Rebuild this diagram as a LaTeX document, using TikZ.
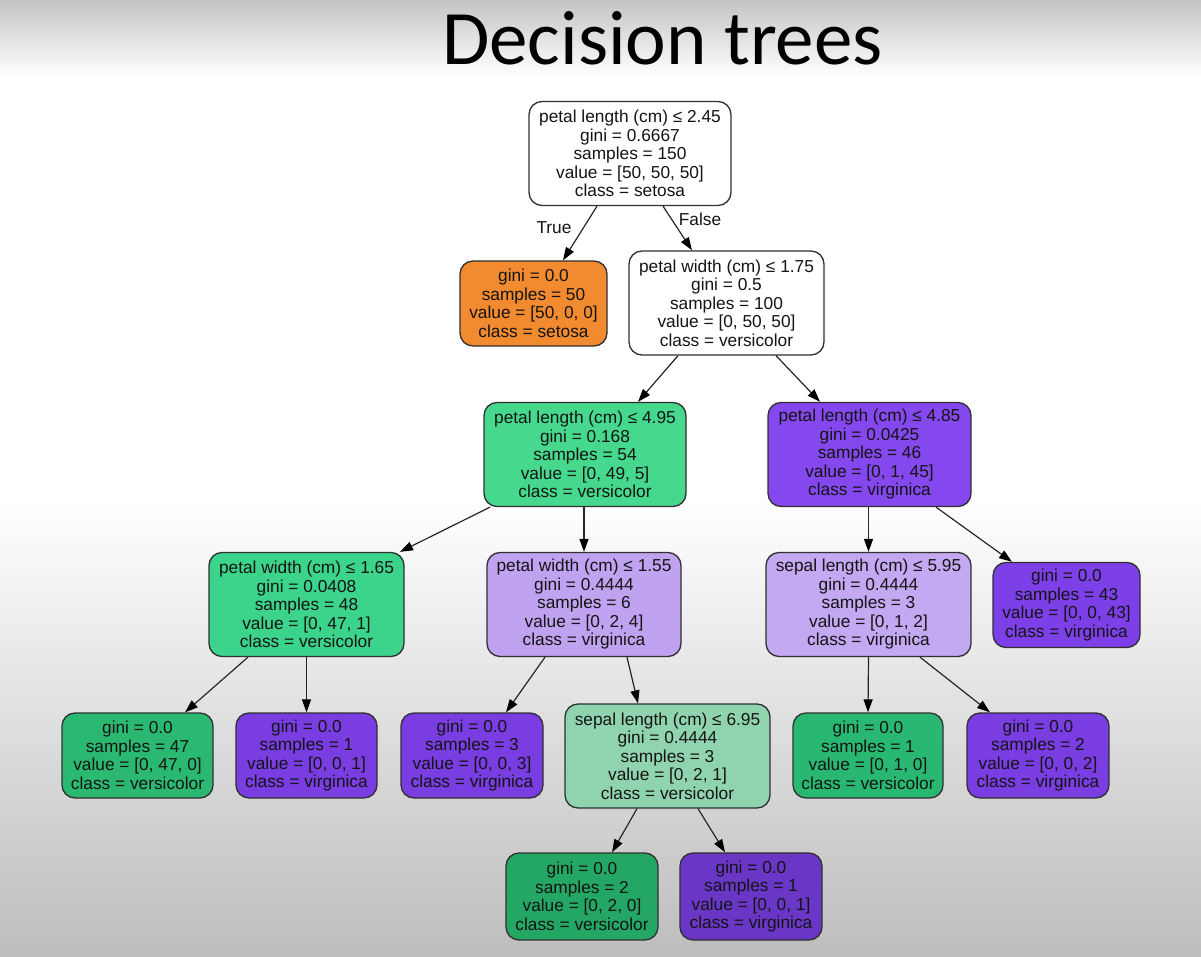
\documentclass[tikz,border=0pt]{standalone}
\usepackage{fontspec}
\setmainfont{Liberation Sans}
\newfontfamily\titlefont{Carlito}
\usetikzlibrary{arrows.meta,calc}

\definecolor{boxline}{HTML}{303030}
\definecolor{edgecol}{HTML}{262626}
\definecolor{txt}{HTML}{141414}
\definecolor{setosaC}{HTML}{F28A30}
\definecolor{greenA}{HTML}{46D98E}
\definecolor{greenB}{HTML}{3CD38A}
\definecolor{greenC}{HTML}{2BB972}
\definecolor{greenD}{HTML}{29B872}
\definecolor{greenE}{HTML}{24A765}
\definecolor{mintC}{HTML}{90D4AF}
\definecolor{purpleA}{HTML}{8548EE}
\definecolor{purpleB}{HTML}{7D40E8}
\definecolor{purpleC}{HTML}{7A3DE2}
\definecolor{purpleD}{HTML}{6A36C6}
\definecolor{lilacA}{HTML}{C0A3F0}
\definecolor{lilacB}{HTML}{C3A8F2}
\definecolor{bgtop}{HTML}{C4C4C4}
\definecolor{bgbot}{HTML}{BDBDBD}

\tikzset{
  treebox/.style={draw=boxline, line width=1.3pt, rounded corners=13pt,
    align=center, inner sep=0pt, text=txt,
    font=\fontsize{17.3}{18.5}\selectfont},
  splitbox/.style={treebox, minimum height=104pt},
  leafbox/.style={treebox, minimum height=85pt},
  edge/.style={draw=edgecol, line width=1.2pt,
    -{Triangle[length=13pt,width=9pt,color=black]}},
  edgelabel/.style={text=txt, font=\fontsize{17.3}{18.5}\selectfont},
}

\begin{document}
\begin{tikzpicture}[x=1pt, y=-1pt]
\useasboundingbox (0,0) rectangle (1201,957);

% background bands
\fill[top color=bgtop, bottom color=white] (0,0) rectangle (1201,76);
\fill[white] (0,76) rectangle (1201,500);
\fill[top color=white, bottom color=bgbot] (0,500) rectangle (1201,957);

% title
\node[font=\titlefont\fontsize{77}{80}\selectfont, text=black] (title) at (662.5,38.5) {Decision trees};

% tree nodes
\node[splitbox, fill=white, minimum width=202pt] (root) at (630,153.5)
  {petal length (cm) ≤ 2.45\\gini = 0.6667\\samples = 150\\value = [50, 50, 50]\\class = setosa};
\node[leafbox, fill=setosaC, minimum width=147pt] (setosa) at (533.5,303.5)
  {gini = 0.0\\samples = 50\\value = [50, 0, 0]\\class = setosa};
\node[splitbox, fill=white, minimum width=195pt] (pwA) at (726.5,303)
  {petal width (cm) ≤ 1.75\\gini = 0.5\\samples = 100\\value = [0, 50, 50]\\class = versicolor};
\node[splitbox, fill=greenA, minimum width=202pt] (plA) at (585,454.5)
  {petal length (cm) ≤ 4.95\\gini = 0.168\\samples = 54\\value = [0, 49, 5]\\class = versicolor};
\node[splitbox, fill=purpleA, minimum width=203pt] (plB) at (869.5,454.5)
  {petal length (cm) ≤ 4.85\\gini = 0.0425\\samples = 46\\value = [0, 1, 45]\\class = virginica};
\node[splitbox, fill=greenB, minimum width=195pt] (pwB) at (306.5,604.5)
  {petal width (cm) ≤ 1.65\\gini = 0.0408\\samples = 48\\value = [0, 47, 1]\\class = versicolor};
\node[splitbox, fill=lilacA, minimum width=194pt] (pwC) at (584,604.5)
  {petal width (cm) ≤ 1.55\\gini = 0.4444\\samples = 6\\value = [0, 2, 4]\\class = virginica};
\node[splitbox, fill=lilacB, minimum width=205pt] (slA) at (868.5,604.5)
  {sepal length (cm) ≤ 5.95\\gini = 0.4444\\samples = 3\\value = [0, 1, 2]\\class = virginica};
\node[leafbox, fill=purpleB, minimum width=147pt] (lf43) at (1066.5,605)
  {gini = 0.0\\samples = 43\\value = [0, 0, 43]\\class = virginica};
\node[leafbox, fill=greenC, minimum width=151pt] (lf47) at (137.5,755.5)
  {gini = 0.0\\samples = 47\\value = [0, 47, 0]\\class = versicolor};
\node[leafbox, fill=purpleC, minimum width=141pt] (lfv1) at (306.5,755.5)
  {gini = 0.0\\samples = 1\\value = [0, 0, 1]\\class = virginica};
\node[leafbox, fill=purpleC, minimum width=142pt] (lfv3) at (472,755.5)
  {gini = 0.0\\samples = 3\\value = [0, 0, 3]\\class = virginica};
\node[splitbox, fill=mintC, minimum width=205pt] (slB) at (667.5,756)
  {sepal length (cm) ≤ 6.95\\gini = 0.4444\\samples = 3\\value = [0, 2, 1]\\class = versicolor};
\node[leafbox, fill=greenD, minimum width=150pt] (lfc1) at (868,755.5)
  {gini = 0.0\\samples = 1\\value = [0, 1, 0]\\class = versicolor};
\node[leafbox, fill=purpleC, minimum width=142pt] (lfv2) at (1038,755.5)
  {gini = 0.0\\samples = 2\\value = [0, 0, 2]\\class = virginica};
\node[leafbox, fill=greenE, minimum width=152pt, minimum height=87pt] (lfc2) at (582,896.5)
  {gini = 0.0\\samples = 2\\value = [0, 2, 0]\\class = versicolor};
\node[leafbox, fill=purpleD, minimum width=142pt, minimum height=87pt] (lfv4) at (751,896.5)
  {gini = 0.0\\samples = 1\\value = [0, 0, 1]\\class = virginica};

% connectors
\draw[edge] ($(root.south)+(-33,0)$) -- ($(setosa.north)+(29.5,0)$);
\draw[edge] ($(root.south)+(33,0)$) -- ($(pwA.north)+(-34.5,0)$);
\draw[edge] ($(pwA.south)+(-48.5,0)$) -- ($(plA.north)+(53,0)$);
\draw[edge] ($(pwA.south)+(49.5,0)$) -- ($(plB.north)+(-49.5,0)$);
\draw[edge] ($(plA.south)+(-95,0)$) -- ($(pwB.north)+(93.5,0)$);
\draw[edge] (plA.south -| pwC.north) -- (pwC.north);
\draw[edge] ($(plB.south)+(-1,0)$) -- (slA.north);
\draw[edge] ($(plB.south)+(66.5,0)$) -- ($(lf43.north)+(-54.5,0)$);
\draw[edge] ($(pwB.south)+(-58.5,0)$) -- ($(lf47.north)+(47.5,0)$);
\draw[edge] (pwB.south) -- (lfv1.north);
\draw[edge] ($(pwC.south)+(-39,0)$) -- ($(lfv3.north)+(34,0)$);
\draw[edge] ($(pwC.south)+(43,0)$) -- ($(slB.north)+(-29.5,0)$);
\draw[edge] (slA.south) -- (lfc1.north);
\draw[edge] ($(slA.south)+(51.5,0)$) -- ($(lfv2.north)+(-48,0)$);
\draw[edge] ($(slB.south)+(-30.5,0)$) -- ($(lfc2.north)+(30,0)$);
\draw[edge] ($(slB.south)+(30.5,0)$) -- ($(lfv4.north)+(-26,0)$);

% branch labels
\node[edgelabel] (lblTrue) at (554,228) {True};
\node[edgelabel] (lblFalse) at (700,219) {False};
\end{tikzpicture}
\end{document}
